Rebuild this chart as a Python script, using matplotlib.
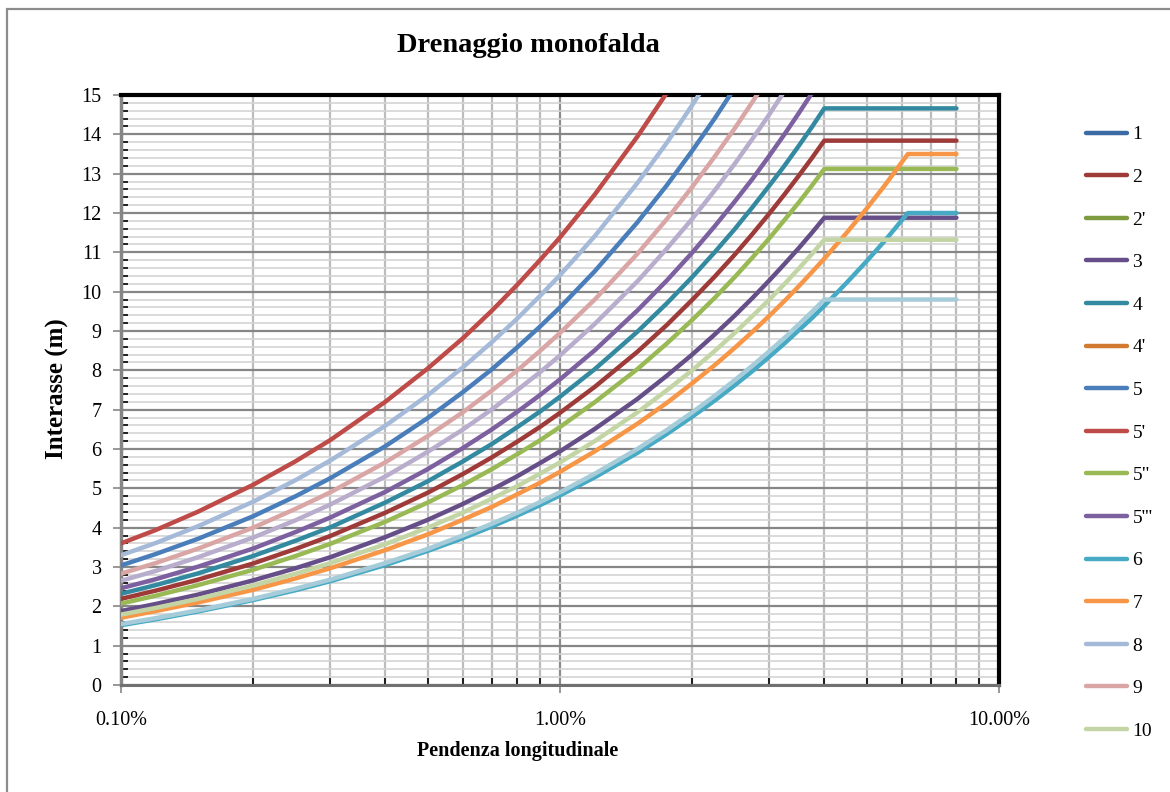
import matplotlib
matplotlib.use("Agg")
import matplotlib.pyplot as plt
from matplotlib.ticker import FixedLocator, NullFormatter, FuncFormatter
from matplotlib.patches import Rectangle

plt.rcParams['font.family'] = ['Liberation Serif', 'DejaVu Serif']

# pendenza longitudinale (%)
pend = [0.1, 0.12, 0.15, 0.2, 0.25, 0.3, 0.4, 0.5, 0.6, 0.7, 0.8, 0.9, 1.0, 1.2, 1.5,
        1.75, 2.0, 2.25, 2.5, 2.75, 3.0, 3.25, 3.5, 3.75, 4.0, 4.5, 5.0, 5.5, 6.2, 7.0, 8.0]

# interasse (m) per serie
s1 = []
s2 = [2.19, 2.40, 2.68, 3.09, 3.46, 3.79, 4.38, 4.89, 5.36, 5.79, 6.19, 6.56, 6.92, 7.58, 8.47,
      9.15, 9.79, 10.38, 10.94, 11.48, 11.99, 12.48, 12.95, 13.40, 13.84,
      13.84, 13.84, 13.84, 13.84, 13.84, 13.84]
s2p = []
s3 = [1.88, 2.06, 2.30, 2.66, 2.97, 3.25, 3.76, 4.20, 4.60, 4.97, 5.31, 5.64, 5.94, 6.51, 7.27,
      7.86, 8.40, 8.91, 9.39, 9.85, 10.29, 10.71, 11.11, 11.50, 11.88,
      11.88, 11.88, 11.88, 11.88, 11.88, 11.88]
s4 = [2.32, 2.54, 2.84, 3.28, 3.67, 4.01, 4.64, 5.18, 5.68, 6.13, 6.56, 6.95, 7.33, 8.03, 8.98,
      9.70, 10.37, 11.00, 11.59, 12.16, 12.70, 13.21, 13.71, 14.19, 14.66,
      14.66, 14.66, 14.66, 14.66, 14.66, 14.66]
s4p = []
s5 = [3.04, 3.33, 3.72, 4.29, 4.80, 5.26, 6.07, 6.79, 7.44, 8.03, 8.59, 9.11, 9.60, 10.52, 11.76,
      12.70, 13.58, 14.40, 15.18]
s5p = [3.60, 3.94, 4.41, 5.09, 5.69, 6.23, 7.20, 8.05, 8.81, 9.52, 10.18, 10.80, 11.38, 12.47,
       13.94, 15.05]
s5pp = [2.07, 2.27, 2.54, 2.93, 3.28, 3.59, 4.15, 4.64, 5.08, 5.49, 5.87, 6.22, 6.56, 7.19, 8.03,
        8.68, 9.28, 9.84, 10.37, 10.88, 11.36, 11.83, 12.27, 12.70, 13.12,
        13.12, 13.12, 13.12, 13.12, 13.12, 13.12]
s5ppp = [2.46, 2.69, 3.01, 3.47, 3.89, 4.26, 4.91, 5.49, 6.02, 6.50, 6.95, 7.37, 7.77, 8.51, 9.52,
         10.28, 10.99, 11.66, 12.29, 12.88, 13.46, 14.01, 14.54, 15.05]
s6 = [1.52, 1.67, 1.87, 2.16, 2.41, 2.64, 3.05, 3.41, 3.73, 4.03, 4.31, 4.57, 4.82, 5.28, 5.90,
      6.38, 6.82, 7.23, 7.62, 7.99, 8.35, 8.69, 9.02, 9.33, 9.64,
      10.23, 10.78, 11.30, 12.00, 12.00, 12.00]
s7 = [1.71, 1.88, 2.10, 2.42, 2.71, 2.97, 3.43, 3.83, 4.20, 4.53, 4.85, 5.14, 5.42, 5.94, 6.64,
      7.17, 7.67, 8.13, 8.57, 8.99, 9.39, 9.77, 10.14, 10.50, 10.84,
      11.50, 12.12, 12.71, 13.50, 13.50, 13.50]
s8 = [3.30, 3.61, 4.04, 4.66, 5.21, 5.71, 6.59, 7.37, 8.07, 8.72, 9.32, 9.89, 10.42, 11.41, 12.76,
      13.78, 14.74, 15.63]
s9 = [2.83, 3.10, 3.47, 4.00, 4.48, 4.90, 5.66, 6.33, 6.93, 7.49, 8.00, 8.49, 8.95, 9.80, 10.96,
      11.84, 12.66, 13.43, 14.15, 14.84, 15.50]
s10 = [1.79, 1.96, 2.19, 2.53, 2.83, 3.10, 3.58, 4.00, 4.38, 4.74, 5.06, 5.37, 5.66, 6.20, 6.93,
       7.49, 8.00, 8.49, 8.95, 9.39, 9.80, 10.20, 10.59, 10.96, 11.32,
       11.32, 11.32, 11.32, 11.32, 11.32, 11.32]
s11 = [2.65, 2.90, 3.25, 3.75, 4.19, 4.59, 5.30, 5.93, 6.49, 7.01, 7.50, 7.95, 8.38, 9.18, 10.26,
       11.09, 11.85, 12.57, 13.25, 13.90, 14.51, 15.11]
s12 = [1.55, 1.70, 1.90, 2.19, 2.45, 2.68, 3.10, 3.46, 3.80, 4.10, 4.38, 4.65, 4.90, 5.37, 6.00,
       6.48, 6.93, 7.35, 7.75, 8.13, 8.49, 8.83, 9.17, 9.49, 9.80,
       9.80, 9.80, 9.80, 9.80, 9.80, 9.80]

serie = [("1", s1, "#3C6AA4"), ("2", s2, "#9E3B39"), ("2'", s2p, "#7E9B40"),
         ("3", s3, "#664F88"), ("4", s4, "#338AA0"), ("4'", s4p, "#D27B30"),
         ("5", s5, "#4A7EBB"), ("5'", s5p, "#BE4B48"), ('5"', s5pp, "#98B954"),
         ("5'''", s5ppp, "#7D60A0"), ("6", s6, "#46AAC5"), ("7", s7, "#F79646"),
         ("8", s8, "#A5B9D8"), ("9", s9, "#D9A6A5"), ("10", s10, "#C3D5A4"),
         (None, s11, "#B8ADCC"), (None, s12, "#A6CCD9")]

fig = plt.figure(figsize=(11.7, 7.92), dpi=100)
ax = fig.add_axes([121/1170, 1-685/792, 878/1170, 590/792])

handles = []
for nome, val, col in serie:
    ln, = ax.plot(pend[:len(val)], val, color=col, lw=3.2, solid_capstyle='round',
                  solid_joinstyle='round', zorder=3)
    if nome is not None:
        ln.set_label(nome)
        handles.append(ln)

ax.set_xscale('log')
ax.set_xlim(0.1, 10)
ax.set_ylim(0, 15)

ax.xaxis.set_major_locator(FixedLocator([0.1, 1, 10]))
ax.xaxis.set_major_formatter(FuncFormatter(lambda v, p: "%.2f%%" % v))
minx = [m * d for d in (0.1, 1) for m in range(2, 10)]
ax.xaxis.set_minor_locator(FixedLocator(minx))
ax.xaxis.set_minor_formatter(NullFormatter())
ax.yaxis.set_major_locator(FixedLocator(range(0, 16)))
ax.yaxis.set_minor_locator(FixedLocator([i * 0.2 for i in range(76) if i % 5]))

ax.grid(which='major', axis='y', color='#868686', lw=1.6, zorder=1)
ax.grid(which='minor', axis='y', color='#d4d4d4', lw=1.2, zorder=1)
ax.grid(which='major', axis='x', color='#8c8c8c', lw=1.6, zorder=1)
ax.grid(which='minor', axis='x', color='#bcbcbc', lw=1.6, zorder=1)

ax.tick_params(which='major', direction='out', length=6, width=1.2, color='#868686',
               labelsize=14.5)
ax.tick_params(which='minor', direction='in', length=5, width=1.2, color='#000000')
ax.tick_params(axis='x', which='major', pad=13)
ax.tick_params(axis='y', which='major', pad=8)

for s in ('top', 'right'):
    ax.spines[s].set_color('black')
    ax.spines[s].set_linewidth(3)
ax.spines['left'].set_color('#868686')
ax.spines['left'].set_linewidth(2.5)
ax.spines['bottom'].set_color('#707070')
ax.spines['bottom'].set_linewidth(2.2)

ax.set_xlabel("Pendenza longitudinale", fontsize=14.5, fontweight='bold')
ax.xaxis.set_label_coords((518 - 121) / 878, -(741 - 685) / 590)
ax.set_ylabel("Interasse (m)", fontsize=18, fontweight='bold')
ax.yaxis.set_label_coords(-(121 - 69) / 878, (685 - 389) / 590)
fig.text(528/1170, 1-45/792, "Drenaggio monofalda", ha='center', va='center',
         fontsize=20.5, fontweight='bold')

leg = fig.legend(handles=handles, loc='upper left', bbox_to_anchor=(1078/1170, 1-118/792),
                 frameon=False, fontsize=14, handlelength=2.1, handletextpad=0.3,
                 labelspacing=1.285, borderaxespad=0)

fig.patches.append(Rectangle((7/1170, -0.1), 1.2, 1 - 9/792 + 0.1, transform=fig.transFigure,
                             fill=False, edgecolor='#8c8c8c', lw=1.6))

fig.savefig("out.png", dpi=100)
